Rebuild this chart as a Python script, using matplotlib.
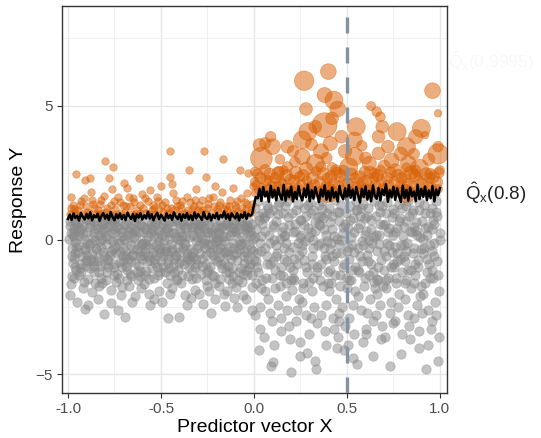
import numpy as np
import matplotlib

matplotlib.use('Agg')
import matplotlib.pyplot as plt
from matplotlib.ticker import MultipleLocator

plt.rcParams['font.family'] = ['Liberation Sans', 'DejaVu Sans']
plt.rcParams['mathtext.fontset'] = 'custom'
plt.rcParams['mathtext.rm'] = 'Liberation Sans'
plt.rcParams['mathtext.it'] = 'Liberation Sans'

# --- data ---
# points below the 0.8 quantile, x < 0
gray_left = [
    (-0.99, 0.52), (-0.98, -0.31), (-0.985, -1.62), (-0.97, 0.12), (-0.975, -0.85), (-0.965, 0.71), (-0.96, -0.48), (-0.955, -1.12),
    (-0.99, -2.05), (-0.97, 0.34), (-0.96, -0.07), (-0.98, -1.35), (-0.955, 0.6), (-0.965, -0.66), (-0.95, -2.3), (-0.985, 0.25),
    (-0.945, -0.22), (-0.94, 0.68), (-0.935, -1.05), (-0.93, 0.41), (-0.925, -0.58), (-0.92, -1.78), (-0.915, 0.05), (-0.91, -0.39),
    (-0.905, 0.77), (-0.94, -1.3), (-0.93, -0.9), (-0.92, 0.22), (-0.91, -2.55), (-0.9, -0.12), (-0.945, 0.5), (-0.905, -0.75),
    (-0.895, 0.3), (-0.89, -1.45), (-0.885, -0.2), (-0.88, 0.62), (-0.875, -0.7), (-0.87, -1.95), (-0.865, 0.1), (-0.86, -0.95),
    (-0.855, 0.45), (-0.85, -0.35), (-0.89, -2.4), (-0.88, 0.75), (-0.87, -0.52), (-0.86, -1.2), (-0.855, 0.0), (-0.895, -0.8),
    (-0.845, 0.55), (-0.84, -0.62), (-0.835, -1.18), (-0.83, 0.18), (-0.825, -0.25), (-0.82, 0.72), (-0.815, -1.6), (-0.81, -0.45),
    (-0.805, 0.38), (-0.8, -0.9), (-0.84, -2.2), (-0.83, -0.05), (-0.82, -1.4), (-0.81, 0.6), (-0.845, -0.78), (-0.805, -2.75),
    (-0.795, -0.15), (-0.79, 0.48), (-0.785, -1.02), (-0.78, 0.8), (-0.775, -0.55), (-0.77, -1.85), (-0.765, 0.25), (-0.76, -0.32),
    (-0.755, -1.3), (-0.75, 0.65), (-0.79, -0.72), (-0.78, 0.05), (-0.77, -2.35), (-0.76, 0.4), (-0.755, -0.9), (-0.795, -1.5),
    (-0.745, 0.33), (-0.74, -0.48), (-0.735, -1.25), (-0.73, 0.7), (-0.725, -0.1), (-0.72, -0.82), (-0.715, -2.05), (-0.71, 0.15),
    (-0.705, -0.6), (-0.7, 0.55), (-0.74, -1.55), (-0.73, -2.6), (-0.72, 0.42), (-0.71, -1.0), (-0.705, -0.28), (-0.745, 0.78),
    (-0.695, -0.4), (-0.69, 0.6), (-0.685, -1.1), (-0.68, 0.2), (-0.675, -0.7), (-0.67, -1.7), (-0.665, 0.45), (-0.66, -0.2),
    (-0.655, -2.3), (-0.65, 0.75), (-0.69, -0.95), (-0.68, -0.05), (-0.67, 0.35), (-0.66, -1.35), (-0.655, -0.55), (-0.695, -2.85),
    (-0.645, 0.1), (-0.64, -0.85), (-0.635, 0.68), (-0.63, -0.35), (-0.625, -1.5), (-0.62, 0.3), (-0.615, -0.6), (-0.61, -1.15),
    (-0.605, 0.55), (-0.6, -0.15), (-0.64, -2.1), (-0.63, 0.8), (-0.62, -0.95), (-0.61, -0.4), (-0.605, -1.8), (-0.645, 0.4),
    (-0.595, -0.55), (-0.59, 0.5), (-0.585, -1.3), (-0.58, 0.0), (-0.575, -0.8), (-0.57, 0.72), (-0.565, -2.0), (-0.56, -0.3),
    (-0.555, 0.25), (-0.55, -1.05), (-0.59, -1.65), (-0.58, 0.4), (-0.57, -0.6), (-0.56, -2.4), (-0.555, 0.6), (-0.595, -0.1),
    (-0.545, 0.38), (-0.54, -0.7), (-0.535, -1.4), (-0.53, 0.65), (-0.525, -0.2), (-0.52, -1.0), (-0.515, 0.1), (-0.51, -1.9),
    (-0.505, -0.45), (-0.5, 0.5), (-0.54, -2.2), (-0.53, -0.85), (-0.52, 0.78), (-0.51, -0.05), (-0.505, -1.2), (-0.545, -0.5),
    (-0.495, 0.2), (-0.49, -0.6), (-0.485, 0.7), (-0.48, -1.2), (-0.475, -0.3), (-0.47, 0.45), (-0.465, -1.6), (-0.46, -0.85),
    (-0.455, 0.05), (-0.45, -2.0), (-0.49, 0.6), (-0.48, -0.4), (-0.46, -2.91), (-0.46, 0.3), (-0.455, -1.05), (-0.495, -2.3),
    (-0.445, -0.15), (-0.44, 0.55), (-0.435, -0.95), (-0.43, 0.25), (-0.425, -0.55), (-0.42, -1.45), (-0.415, 0.75), (-0.41, -0.25),
    (-0.405, -2.85), (-0.4, 0.4), (-0.44, -1.8), (-0.43, -0.7), (-0.42, 0.1), (-0.41, -1.1), (-0.405, 0.62), (-0.445, -0.4),
    (-0.395, 0.3), (-0.39, -0.8), (-0.385, -1.3), (-0.38, 0.6), (-0.375, -0.1), (-0.37, -2.05), (-0.365, 0.15), (-0.36, -0.5),
    (-0.355, 0.72), (-0.35, -1.0), (-0.39, -1.6), (-0.38, -0.3), (-0.37, 0.45), (-0.36, -2.4), (-0.355, -0.7), (-0.395, 0.0),
    (-0.345, -0.35), (-0.34, 0.5), (-0.335, -1.15), (-0.33, 0.2), (-0.325, -0.65), (-0.32, 0.78), (-0.315, -1.85), (-0.31, -0.05),
    (-0.305, -0.9), (-0.3, 0.35), (-0.34, -2.15), (-0.33, -0.45), (-0.32, 0.6), (-0.31, -1.4), (-0.305, 0.1), (-0.345, -0.8),
    (-0.295, 0.45), (-0.29, -0.5), (-0.285, -1.25), (-0.28, 0.05), (-0.275, -2.38), (-0.27, 0.7), (-0.265, -0.3), (-0.26, -0.9),
    (-0.255, 0.3), (-0.25, -1.7), (-0.29, 0.6), (-0.28, -0.7), (-0.27, -0.1), (-0.26, -1.5), (-0.255, 0.75), (-0.295, -2.0),
    (-0.245, -0.2), (-0.24, 0.58), (-0.235, -1.0), (-0.23, -2.7), (-0.225, 0.25), (-0.22, -0.55), (-0.215, -1.35), (-0.21, 0.7),
    (-0.205, -0.05), (-0.2, -0.8), (-0.24, -1.9), (-0.23, 0.4), (-0.22, -0.35), (-0.21, -2.2), (-0.205, 0.1), (-0.245, -1.1),
    (-0.195, 0.35), (-0.19, -0.65), (-0.185, -1.45), (-0.18, 0.72), (-0.175, -0.15), (-0.17, -1.05), (-0.165, 0.15), (-0.16, -2.0),
    (-0.155, -0.45), (-0.15, 0.55), (-0.19, -1.7), (-0.18, -0.3), (-0.17, 0.48), (-0.16, -0.85), (-0.155, -2.45), (-0.195, 0.0),
    (-0.145, -0.4), (-0.14, 0.62), (-0.135, -1.2), (-0.13, 0.2), (-0.125, -0.7), (-0.12, -1.6), (-0.115, 0.45), (-0.11, -0.1),
    (-0.105, -2.15), (-0.1, 0.75), (-0.14, -0.95), (-0.13, -0.25), (-0.12, 0.3), (-0.11, -1.35), (-0.105, -0.55), (-0.145, -1.9),
    (-0.095, 0.28), (-0.09, -0.75), (-0.085, -1.5), (-0.08, 0.65), (-0.075, -0.2), (-0.07, -1.05), (-0.065, 0.1), (-0.06, -2.05),
    (-0.055, -0.45), (-0.05, 0.5), (-0.09, -2.5), (-0.08, -0.35), (-0.07, 0.75), (-0.06, -1.25), (-0.055, -0.6), (-0.095, -1.75),
    (-0.045, 0.4), (-0.04, -0.5), (-0.035, -1.3), (-0.03, 0.7), (-0.025, -0.15), (-0.02, -0.9), (-0.015, 0.2), (-0.01, -1.75),
    (-0.005, -0.4), (-0.045, -2.2), (-0.04, 0.55), (-0.03, -0.7), (-0.02, 0.35), (-0.01, -2.6), (-0.005, 0.05), (-0.035, -1.1),
    # the dense band
    (-0.995, 0.05), (-0.98, -0.6), (-0.97, 0.45), (-0.96, -1.0), (-0.955, -0.25), (-0.99, 0.7), (-0.965, -1.4), (-0.975, 0.2),
    (-0.948, -0.45), (-0.938, 0.15), (-0.928, -1.2), (-0.918, 0.55), (-0.908, -0.3), (-0.902, -0.95), (-0.942, 0.35), (-0.912, -1.55),
    (-0.898, -0.55), (-0.888, 0.5), (-0.878, -0.1), (-0.868, -0.8), (-0.858, 0.7), (-0.852, -1.6), (-0.882, -1.05), (-0.862, 0.25),
    (-0.848, -0.3), (-0.838, 0.4), (-0.828, -0.95), (-0.818, 0.05), (-0.808, -0.6), (-0.802, 0.65), (-0.832, -1.7), (-0.812, 0.3),
    (-0.798, 0.15), (-0.788, -1.2), (-0.778, 0.6), (-0.768, -0.4), (-0.758, -0.05), (-0.752, -1.0), (-0.782, -0.75), (-0.762, 0.75),
    (-0.748, -0.25), (-0.738, 0.5), (-0.728, -1.4), (-0.718, -0.45), (-0.708, 0.3), (-0.702, -0.8), (-0.732, 0.0), (-0.712, -1.75),
    (-0.698, 0.05), (-0.688, -0.6), (-0.678, 0.7), (-0.668, -1.25), (-0.658, 0.25), (-0.652, -0.35), (-0.682, -1.5), (-0.662, -0.8),
    (-0.648, -0.55), (-0.638, 0.35), (-0.628, -1.2), (-0.618, 0.6), (-0.608, -0.2), (-0.602, -0.7), (-0.632, 0.05), (-0.612, -1.35),
    (-0.598, 0.3), (-0.588, -0.45), (-0.578, -1.15), (-0.568, 0.15), (-0.558, -0.75), (-0.552, 0.45), (-0.582, -0.2), (-0.562, -1.45),
    (-0.548, -0.15), (-0.538, 0.2), (-0.528, -0.55), (-0.518, -1.3), (-0.508, 0.35), (-0.502, -0.8), (-0.532, 0.55), (-0.512, -0.35),
    (-0.498, -0.25), (-0.488, -1.0), (-0.478, 0.35), (-0.468, -0.5), (-0.458, 0.65), (-0.452, -1.3), (-0.482, 0.0), (-0.462, -0.7),
    (-0.448, 0.25), (-0.438, -0.35), (-0.428, -1.2), (-0.418, -0.6), (-0.408, 0.05), (-0.402, -0.85), (-0.432, 0.7), (-0.412, -1.5),
    (-0.398, -0.45), (-0.388, 0.15), (-0.378, -0.9), (-0.368, -0.2), (-0.358, 0.5), (-0.352, -1.35), (-0.382, 0.7), (-0.362, -0.65),
    (-0.348, 0.1), (-0.338, -0.6), (-0.328, 0.45), (-0.318, -1.0), (-0.308, -0.3), (-0.302, 0.6), (-0.332, -1.45), (-0.312, -0.7),
    (-0.298, -0.2), (-0.288, 0.25), (-0.278, -0.95), (-0.268, 0.4), (-0.258, -0.55), (-0.252, -1.2), (-0.282, 0.55), (-0.262, 0.0),
    (-0.248, 0.3), (-0.238, -0.45), (-0.228, -1.3), (-0.218, 0.05), (-0.208, -0.7), (-0.202, 0.5), (-0.232, -0.15), (-0.212, -1.6),
    (-0.198, -0.35), (-0.188, 0.25), (-0.178, -0.9), (-0.168, -0.5), (-0.158, 0.6), (-0.152, -1.2), (-0.182, 0.45), (-0.162, -0.05),
    (-0.148, 0.15), (-0.138, -0.55), (-0.128, 0.5), (-0.118, -1.05), (-0.108, -0.3), (-0.102, 0.35), (-0.132, -1.45), (-0.112, 0.6),
    (-0.098, -0.5), (-0.088, 0.4), (-0.078, -1.2), (-0.068, -0.15), (-0.058, 0.55), (-0.052, -0.85), (-0.082, 0.0), (-0.062, -1.55),
    (-0.048, -0.1), (-0.038, 0.25), (-0.028, -1.0), (-0.018, -0.35), (-0.008, 0.6), (-0.002, -0.75), (-0.032, 0.5), (-0.012, -1.3),
]

# points below the 0.8 quantile, x > 0
gray_right = [
    (0.005, 1.2), (0.01, 0.4), (0.015, -0.5), (0.02, -1.2), (0.025, 0.9), (0.03, -0.1), (0.035, -2.5), (0.04, -1.8),
    (0.045, 0.6), (0.005, -2.8), (0.01, -0.8), (0.02, 1.45), (0.03, -3.3), (0.04, 0.15), (0.045, -1.5), (0.025, -4.1),
    (0.055, 0.8), (0.06, -0.3), (0.065, -1.4), (0.07, 1.3), (0.075, -2.2), (0.08, 0.2), (0.085, -0.9), (0.09, -4.7),
    (0.095, -3.0), (0.1, 0.55), (0.06, -1.9), (0.07, -0.6), (0.08, 1.0), (0.085, -2.7), (0.1, -4.55), (0.055, -3.6),
    (0.105, 1.1), (0.11, 0.0), (0.115, -1.1), (0.12, 0.7), (0.125, -0.5), (0.13, -2.4), (0.135, 1.4), (0.14, -1.7),
    (0.145, -3.4), (0.15, 0.3), (0.11, -3.9), (0.12, -0.2), (0.13, 0.95), (0.14, -1.3), (0.145, -2.9), (0.105, -0.8),
    (0.155, 0.5), (0.16, -0.7), (0.165, 1.25), (0.17, -1.6), (0.175, -0.1), (0.18, -2.6), (0.185, 0.85), (0.19, -3.2),
    (0.195, -1.0), (0.2, -4.9), (0.16, 0.15), (0.17, -2.1), (0.18, 1.45), (0.19, -0.45), (0.195, -3.7), (0.155, -1.35),
    (0.205, 1.0), (0.21, -0.25), (0.215, -1.5), (0.22, 0.6), (0.225, -3.0), (0.23, -0.9), (0.235, 1.35), (0.24, -2.2),
    (0.245, 0.1), (0.25, -3.8), (0.21, -1.1), (0.22, 0.35), (0.23, -2.6), (0.24, -0.55), (0.245, -4.3), (0.205, -1.85),
    (0.255, 0.75), (0.26, -0.4), (0.265, -1.8), (0.27, 1.2), (0.275, -0.05), (0.28, -2.8), (0.285, -1.2), (0.29, 0.45),
    (0.295, -3.5), (0.3, 1.4), (0.26, -2.3), (0.27, -0.75), (0.28, 0.9), (0.285, -4.2), (0.295, -1.55), (0.255, 0.2),
    (0.305, 0.3), (0.31, -0.6), (0.315, 1.1), (0.32, -1.4), (0.325, -2.5), (0.33, 0.65), (0.335, -4.8), (0.34, -3.1),
    (0.345, -0.2), (0.35, 1.3), (0.31, -1.9), (0.32, 0.0), (0.33, -4.5), (0.34, -1.0), (0.345, 0.85), (0.305, -2.9),
    (0.355, 0.55), (0.36, -0.9), (0.365, 1.45), (0.37, -1.7), (0.375, -0.3), (0.38, -3.4), (0.385, 0.2), (0.39, -2.4),
    (0.395, 1.0), (0.4, -1.2), (0.36, -2.8), (0.37, 0.8), (0.38, -0.6), (0.39, -3.9), (0.395, -0.05), (0.355, -1.5),
    (0.405, 1.2), (0.41, -0.35), (0.415, -1.6), (0.42, 0.4), (0.425, -2.9), (0.43, -0.8), (0.435, 1.5), (0.44, -2.2),
    (0.445, 0.05), (0.45, -3.6), (0.41, -1.1), (0.42, 0.9), (0.43, -3.3), (0.44, -0.5), (0.445, -4.0), (0.405, -1.9),
    (0.455, 0.7), (0.46, -0.15), (0.465, -1.3), (0.47, 1.3), (0.475, -2.5), (0.48, 0.25), (0.485, -0.9), (0.49, -3.2),
    (0.495, 1.0), (0.5, -1.8), (0.46, -2.7), (0.47, -0.5), (0.48, 0.5), (0.485, -4.1), (0.495, -1.4), (0.455, -3.0),
    (0.505, 0.45), (0.51, -0.7), (0.515, 1.25), (0.52, -1.5), (0.525, -0.2), (0.53, -2.4), (0.535, 0.8), (0.54, -3.5),
    (0.545, -1.0), (0.55, 1.45), (0.51, -2.9), (0.52, 0.1), (0.53, -4.4), (0.54, -0.45), (0.545, -1.9), (0.505, -3.9),
    (0.555, 1.1), (0.56, -0.3), (0.565, -1.2), (0.57, 0.6), (0.575, -2.6), (0.58, -0.8), (0.585, 1.35), (0.59, -1.7),
    (0.595, 0.2), (0.6, -3.3), (0.56, -2.1), (0.57, 0.9), (0.58, -0.05), (0.585, -3.8), (0.595, -1.4), (0.555, -4.6),
    (0.605, 0.35), (0.61, -0.55), (0.615, 1.2), (0.62, -1.3), (0.625, -2.2), (0.63, 0.75), (0.635, -0.1), (0.64, -3.0),
    (0.645, 1.45), (0.65, -1.8), (0.61, -2.7), (0.62, 0.0), (0.63, -0.9), (0.64, -4.3), (0.645, -1.55), (0.605, -3.5),
    (0.655, 0.9), (0.66, -0.4), (0.665, -1.5), (0.67, 1.3), (0.675, 0.2), (0.68, -2.4), (0.685, -0.75), (0.69, -3.2),
    (0.695, 0.55), (0.7, -1.1), (0.66, -2.0), (0.67, -0.15), (0.68, 1.05), (0.685, -3.7), (0.695, -1.7), (0.655, -2.8),
    (0.705, 0.6), (0.71, -0.6), (0.715, 1.4), (0.72, -1.4), (0.725, -0.2), (0.73, -4.7), (0.735, -2.3), (0.74, 0.85),
    (0.745, -3.1), (0.75, -0.9), (0.71, -1.8), (0.72, 0.3), (0.73, -2.7), (0.74, -0.45), (0.745, 1.15), (0.705, -3.6),
    (0.755, 1.0), (0.76, -0.25), (0.765, -1.6), (0.77, 0.45), (0.775, -2.5), (0.78, 1.35), (0.785, -0.7), (0.79, -4.25),
    (0.795, -1.2), (0.8, 0.15), (0.76, -3.0), (0.77, -0.5), (0.78, -2.0), (0.785, 0.8), (0.795, -3.5), (0.755, -1.0),
    (0.805, 0.5), (0.81, -0.8), (0.815, 1.25), (0.82, -1.5), (0.825, -0.1), (0.83, -2.8), (0.835, 0.9), (0.84, -3.7),
    (0.845, -1.1), (0.85, 0.3), (0.81, -2.2), (0.82, -0.4), (0.83, 1.45), (0.835, -3.2), (0.845, -1.8), (0.805, -0.6),
    (0.855, 1.1), (0.86, -0.3), (0.865, -1.3), (0.87, 0.65), (0.875, -2.4), (0.88, -0.75), (0.885, 1.4), (0.89, -3.4),
    (0.895, 0.1), (0.9, -1.7), (0.86, -2.9), (0.87, 0.35), (0.88, -1.0), (0.885, -4.0), (0.895, -2.1), (0.855, -0.5),
    (0.905, 0.7), (0.91, -0.5), (0.915, 1.3), (0.92, -1.6), (0.925, -4.8), (0.93, 0.2), (0.935, -2.6), (0.94, -0.9),
    (0.945, 1.0), (0.95, -3.3), (0.91, -2.0), (0.92, 0.45), (0.93, -1.2), (0.935, -3.9), (0.945, -0.2), (0.905, -2.7),
    (0.955, 1.2), (0.96, -0.4), (0.965, -1.4), (0.97, 0.6), (0.975, -2.3), (0.98, 1.45), (0.985, -0.8), (0.99, -4.5),
    (0.995, -1.9), (1.0, 0.25), (0.96, -3.0), (0.97, -0.1), (0.98, -2.8), (0.985, 0.9), (0.995, -3.6), (0.955, -1.1),
    # the dense band
    (0.008, 0.1), (0.018, -1.0), (0.028, 0.75), (0.038, -0.4), (0.048, 1.0), (0.012, -1.6),
    (0.058, 0.35), (0.068, -0.9), (0.078, 1.2), (0.088, -0.1), (0.098, -1.4), (0.062, 0.9),
    (0.108, 0.5), (0.118, -0.6), (0.128, 1.3), (0.138, 0.05), (0.148, -1.0), (0.112, -1.8),
    (0.158, 1.0), (0.168, 0.2), (0.178, -0.8), (0.188, 0.55), (0.198, -1.5), (0.162, -0.3),
    (0.208, 0.3), (0.218, -0.7), (0.228, 1.1), (0.238, -0.1), (0.248, 0.75), (0.212, -1.4),
    (0.258, -0.2), (0.268, 0.55), (0.278, -1.0), (0.288, 1.3), (0.298, 0.1), (0.262, -1.6),
    (0.308, 1.0), (0.318, -0.3), (0.328, 0.35), (0.338, -1.2), (0.348, 0.6), (0.312, -0.9),
    (0.358, -0.1), (0.368, 1.15), (0.378, 0.4), (0.388, -0.7), (0.398, -1.6), (0.362, 0.9),
    (0.408, 0.65), (0.418, -0.6), (0.428, 0.15), (0.438, -1.3), (0.448, 1.05), (0.412, -0.1),
    (0.458, 1.05), (0.468, 0.0), (0.478, -1.0), (0.488, 0.6), (0.498, -0.4), (0.462, -1.7),
    (0.508, -0.25), (0.518, 0.75), (0.528, -1.1), (0.538, 0.3), (0.548, 1.1), (0.512, -1.5),
    (0.558, 0.45), (0.568, -0.6), (0.578, 1.2), (0.588, -0.2), (0.598, 0.8), (0.562, -1.1),
    (0.608, 0.9), (0.618, -0.3), (0.628, 0.4), (0.638, -1.2), (0.648, 0.1), (0.612, -0.8),
    (0.658, 0.2), (0.668, -1.0), (0.678, 0.6), (0.688, 1.25), (0.698, -0.4), (0.662, -1.45),
    (0.708, 1.0), (0.718, -0.1), (0.728, 0.45), (0.738, -1.0), (0.748, 0.2), (0.712, -1.5),
    (0.758, 0.3), (0.768, -0.8), (0.778, 0.7), (0.788, -0.2), (0.798, 1.2), (0.762, -1.4),
    (0.808, -0.2), (0.818, 0.7), (0.828, -1.1), (0.838, 0.35), (0.848, 1.0), (0.812, -1.6),
    (0.858, 0.5), (0.868, -0.9), (0.878, 0.2), (0.888, 1.1), (0.898, -0.35), (0.862, -1.6),
    (0.908, 0.05), (0.918, 1.0), (0.928, -0.7), (0.938, 0.5), (0.948, -1.4), (0.912, -0.3),
    (0.958, 0.4), (0.968, -0.6), (0.978, 1.05), (0.988, -1.3), (0.998, 0.0), (0.962, 0.75),
]

# points above the 0.8 quantile, x < 0 (all small)
orange_left = [
    (-0.99, 0.95), (-0.975, 1.3), (-0.96, 1.05), (-0.957, 2.44), (-0.985, 1.6), (-0.965, 1.15),
    (-0.945, 1.1), (-0.93, 1.45), (-0.91, 2.23), (-0.92, 0.98), (-0.905, 1.25),
    (-0.88, 2.3), (-0.895, 1.05), (-0.87, 1.5), (-0.86, 1.2), (-0.85, 0.95), (-0.875, 1.8),
    (-0.84, 1.1), (-0.83, 1.35), (-0.8, 2.95), (-0.815, 1.0), (-0.805, 1.65),
    (-0.78, 2.3), (-0.76, 2.7), (-0.79, 1.2), (-0.775, 0.98), (-0.755, 1.45), (-0.765, 1.9),
    (-0.745, 1.15), (-0.73, 1.6), (-0.715, 1.0), (-0.7, 2.1), (-0.705, 1.3),
    (-0.695, 1.05), (-0.68, 1.95), (-0.665, 1.25), (-0.655, 0.95), (-0.65, 1.55),
    (-0.645, 1.4), (-0.63, 1.1), (-0.62, 2.32), (-0.61, 1.0), (-0.6, 1.7),
    (-0.595, 1.2), (-0.58, 1.0), (-0.57, 1.45), (-0.56, 1.85), (-0.55, 1.1),
    (-0.545, 1.3), (-0.53, 0.95), (-0.52, 1.6), (-0.51, 1.15), (-0.5, 2.0),
    (-0.49, 1.05), (-0.48, 1.4), (-0.465, 1.2), (-0.45, 3.32), (-0.45, 2.35), (-0.455, 1.0),
    (-0.44, 2.07), (-0.43, 1.1), (-0.42, 1.5), (-0.41, 0.95), (-0.4, 1.3), (-0.435, 1.75),
    (-0.39, 1.2), (-0.375, 1.0), (-0.36, 1.6), (-0.35, 2.6), (-0.355, 1.1),
    (-0.345, 1.4), (-0.33, 0.98), (-0.32, 1.25), (-0.31, 1.9), (-0.3, 1.1),
    (-0.29, 1.05), (-0.27, 3.31), (-0.28, 1.5), (-0.26, 2.35), (-0.255, 1.2), (-0.265, 0.95),
    (-0.245, 1.35), (-0.23, 1.0), (-0.21, 2.02), (-0.22, 1.6), (-0.2, 1.15),
    (-0.195, 1.05), (-0.165, 3.0), (-0.18, 1.4), (-0.17, 1.8), (-0.155, 0.98), (-0.15, 1.25),
    (-0.145, 1.1), (-0.13, 1.5), (-0.12, 1.0), (-0.11, 1.95), (-0.1, 1.3),
    (-0.095, 1.2), (-0.075, 2.6), (-0.085, 1.05), (-0.07, 1.55), (-0.06, 1.0), (-0.05, 1.4),
    (-0.045, 1.15), (-0.03, 2.5), (-0.035, 1.75), (-0.02, 1.0), (-0.01, 1.35), (-0.005, 2.0),
    (-0.985, 1.2), (-0.955, 0.92), (-0.935, 1.3), (-0.915, 1.55), (-0.885, 1.0), (-0.865, 1.35),
    (-0.835, 0.95), (-0.82, 1.5), (-0.795, 1.05), (-0.77, 1.3), (-0.74, 0.95), (-0.72, 1.4),
    (-0.69, 1.25), (-0.67, 1.6), (-0.64, 0.97), (-0.615, 1.3), (-0.585, 1.55), (-0.565, 0.95),
    (-0.535, 1.2), (-0.515, 1.45), (-0.495, 1.3), (-0.47, 0.95), (-0.445, 1.2), (-0.415, 1.25),
    (-0.385, 1.45), (-0.365, 0.95), (-0.335, 1.15), (-0.315, 1.5), (-0.295, 1.3), (-0.275, 1.1),
    (-0.24, 1.55), (-0.215, 1.25), (-0.19, 1.3), (-0.16, 1.15), (-0.135, 1.25), (-0.115, 0.95),
    (-0.09, 1.45), (-0.065, 1.2), (-0.04, 1.35), (-0.015, 1.1),
]

# points above the 0.8 quantile, x > 0: (x, y, weight)
orange_right = [
    (0.27, 5.92, 2.6), (0.40, 6.26, 2.1), (0.96, 5.55, 2.1), (0.38, 5.39, 2.0), (0.43, 5.2, 2.4), (0.28, 4.87, 1.7),
    (0.45, 4.87, 2.1), (0.63, 4.98, 1.2), (0.66, 4.77, 1.3), (0.68, 4.58, 1.3), (0.99, 4.71, 1.0), (0.42, 4.52, 1.7),
    (0.38, 4.27, 3.3), (0.55, 4.21, 2.4), (0.69, 4.21, 1.7), (0.77, 4.03, 2.4), (0.90, 4.15, 2.4), (0.67, 3.84, 1.7),
    (0.29, 4.03, 2.4), (0.33, 4.21, 1.7), (0.26, 3.72, 2.4), (0.09, 3.84, 1.4), (0.03, 3.53, 1.7), (0.04, 3.04, 2.9),
    (0.10, 3.47, 2.1), (0.18, 3.47, 1.7), (0.26, 3.10, 2.1), (0.33, 2.85, 2.4), (0.41, 3.59, 1.9), (0.47, 3.84, 1.7),
    (0.54, 3.72, 2.1), (0.54, 3.10, 2.4), (0.62, 2.85, 1.9), (0.67, 3.22, 1.7), (0.72, 3.47, 1.7), (0.82, 3.47, 2.4),
    (0.87, 3.84, 1.9), (0.92, 3.9, 1.0), (0.99, 3.47, 1.4), (0.99, 3.2, 2.7), (0.83, 2.85, 2.1), (0.89, 2.67, 2.4),
    (1.0, 2.6, 1.2), (0.76, 2.6, 1.7), (0.65, 2.48, 1.4), (0.51, 2.72, 2.4), (0.44, 2.6, 1.4), (0.36, 2.72, 1.4),
    (0.18, 2.72, 1.4), (0.13, 2.48, 1.7), (0.08, 2.23, 1.2), (0.005, 2.54, 1.2), (0.005, 2.16, 1.2),
    (0.06, 3.6, 1.5), (0.14, 3.0, 1.3), (0.21, 3.3, 1.5), (0.31, 3.55, 1.6), (0.36, 3.3, 2.0), (0.49, 3.3, 1.8),
    (0.58, 3.5, 1.4), (0.6, 3.05, 1.6), (0.74, 2.95, 2.0), (0.79, 3.2, 1.8), (0.86, 3.2, 1.5), (0.94, 3.0, 1.6),
    (0.95, 2.45, 1.5), (0.7, 2.75, 1.6), (0.22, 2.9, 1.4), (0.39, 3.05, 1.5),
    (0.40, 1.75, 2.6), (0.82, 1.72, 2.4), (0.6, 1.8, 2.0), (0.2, 1.75, 1.9),
    (0.005, 1.75, 1.0), (0.015, 2.05, 1.3), (0.025, 1.85, 1.1), (0.035, 2.3, 1.5), (0.045, 1.95, 1.2), (0.02, 2.45, 1.4),
    (0.055, 1.8, 1.1), (0.065, 2.2, 1.4), (0.075, 1.9, 1.2), (0.085, 2.45, 1.6), (0.095, 2.0, 1.3), (0.06, 2.6, 1.5),
    (0.105, 1.85, 1.2), (0.115, 2.3, 1.5), (0.125, 2.0, 1.3), (0.135, 2.55, 1.4), (0.145, 1.78, 1.1), (0.14, 2.15, 1.6),
    (0.155, 2.1, 1.3), (0.165, 1.8, 1.1), (0.175, 2.4, 1.6), (0.185, 1.95, 1.2), (0.195, 2.25, 1.4), (0.16, 2.6, 1.2),
    (0.205, 1.85, 1.2), (0.215, 2.2, 1.5), (0.225, 2.5, 1.7), (0.235, 1.95, 1.3), (0.245, 2.35, 1.4), (0.23, 1.75, 1.0),
    (0.255, 2.05, 1.4), (0.265, 2.4, 1.6), (0.275, 1.8, 1.1), (0.285, 2.2, 1.3), (0.295, 1.95, 1.5), (0.28, 2.65, 1.8),
    (0.305, 1.9, 1.2), (0.315, 2.3, 1.6), (0.325, 2.05, 1.4), (0.335, 2.55, 1.3), (0.345, 1.8, 1.1), (0.32, 1.7, 1.0),
    (0.355, 2.15, 1.5), (0.365, 1.85, 1.2), (0.375, 2.45, 1.7), (0.385, 2.0, 1.3), (0.395, 2.3, 1.4), (0.39, 1.75, 1.1),
    (0.405, 1.95, 1.3), (0.415, 2.35, 1.6), (0.425, 2.1, 1.4), (0.435, 1.8, 1.1), (0.445, 2.5, 1.5), (0.42, 2.7, 1.3),
    (0.455, 2.0, 1.4), (0.465, 2.4, 1.7), (0.475, 1.85, 1.2), (0.485, 2.2, 1.5), (0.495, 1.75, 1.1), (0.48, 2.6, 1.3),
    (0.505, 2.1, 1.5), (0.515, 1.85, 1.2), (0.525, 2.45, 1.6), (0.535, 2.0, 1.3), (0.545, 2.3, 1.4), (0.53, 1.72, 1.0),
    (0.555, 1.95, 1.3), (0.565, 2.35, 1.6), (0.575, 1.8, 1.1), (0.585, 2.15, 1.5), (0.595, 2.55, 1.4), (0.58, 2.0, 1.2),
    (0.605, 2.2, 1.5), (0.615, 1.85, 1.2), (0.625, 2.5, 1.7), (0.635, 1.95, 1.3), (0.645, 2.3, 1.4), (0.64, 1.75, 1.0),
    (0.655, 2.05, 1.4), (0.665, 2.4, 1.6), (0.675, 1.8, 1.1), (0.685, 2.2, 1.5), (0.695, 1.95, 1.2), (0.68, 2.6, 1.3),
    (0.705, 1.9, 1.3), (0.715, 2.3, 1.6), (0.725, 2.05, 1.4), (0.735, 2.5, 1.5), (0.745, 1.8, 1.1), (0.72, 1.72, 1.0),
    (0.755, 2.15, 1.5), (0.765, 1.85, 1.2), (0.775, 2.4, 1.7), (0.785, 2.0, 1.3), (0.795, 2.3, 1.4), (0.78, 1.75, 1.1),
    (0.805, 1.95, 1.3), (0.815, 2.35, 1.6), (0.825, 2.1, 1.4), (0.835, 1.8, 1.1), (0.845, 2.5, 1.8), (0.82, 2.7, 1.2),
    (0.855, 2.0, 1.4), (0.865, 2.4, 1.6), (0.875, 1.85, 1.2), (0.885, 2.2, 1.5), (0.895, 1.75, 1.1), (0.87, 2.6, 1.3),
    (0.905, 2.1, 1.5), (0.915, 1.85, 1.2), (0.925, 2.45, 1.7), (0.935, 2.0, 1.3), (0.945, 2.3, 1.4), (0.93, 1.72, 1.0),
    (0.955, 1.95, 1.3), (0.965, 2.35, 1.6), (0.975, 1.8, 1.1), (0.985, 2.15, 1.5), (0.995, 2.5, 1.4), (0.99, 1.9, 1.2),
]

# estimated 0.8 quantile on an even grid from -1 to 1 (step 0.01)
q80_est = [
    0.78, 0.95, 0.74, 0.99, 0.82, 0.90, 0.72, 1.01, 0.86, 0.76,
    0.97, 0.80, 1.03, 0.73, 0.92, 0.84, 0.98, 0.71, 0.89, 1.00,
    0.79, 0.94, 0.75, 1.04, 0.85, 0.73, 0.96, 0.81, 0.99, 0.77,
    0.93, 0.74, 1.02, 0.88, 0.78, 0.97, 0.71, 0.95, 0.83, 1.00,
    0.76, 0.92, 0.80, 1.05, 0.79, 0.96, 0.73, 0.90, 1.01, 0.77,
    0.94, 0.84, 0.72, 0.99, 0.81, 0.93, 0.75, 1.03, 0.87, 0.78,
    0.97, 0.72, 0.95, 0.82, 1.00, 0.76, 0.92, 0.74, 1.02, 0.80,
    0.96, 0.86, 0.75, 1.04, 0.83, 0.78, 0.98, 0.73, 0.94, 0.81,
    1.01, 0.77, 0.93, 0.84, 1.06, 0.79, 0.96, 0.74, 0.99, 0.88,
    0.80, 1.00, 0.73, 0.95, 0.83, 1.03, 0.78, 0.97, 0.90,
    0.95, 1.30, 1.60,
    1.55, 1.90, 1.45, 1.97, 1.62, 1.80, 1.42, 2.02, 1.58, 1.86,
    1.48, 1.94, 1.66, 1.50, 2.05, 1.46, 1.84, 1.60, 1.98, 1.43,
    1.78, 1.52, 2.00, 1.64, 1.47, 1.91, 1.59, 2.06, 1.44, 1.85,
    1.54, 1.96, 1.68, 1.41, 1.88, 1.62, 2.03, 1.50, 1.82, 1.46,
    1.95, 1.58, 1.79, 1.43, 2.01, 1.65, 1.51, 1.92, 1.45, 2.04,
    1.57, 1.87, 1.48, 1.97, 1.66, 1.40, 1.90, 1.60, 1.99, 1.50,
    1.83, 1.44, 2.03, 1.63, 1.53, 1.94, 1.47, 1.88, 1.67, 2.07,
    1.42, 1.85, 1.58, 1.98, 1.49, 1.92, 1.64, 1.41, 2.02, 1.56,
    1.86, 1.46, 1.95, 1.62, 1.80, 1.44, 2.05, 1.52, 1.90, 1.60,
    1.99, 1.48, 1.84, 1.55, 2.01, 1.43, 1.88, 1.66, 1.93,
]
q_grid = np.linspace(-1.0, 1.0, len(q80_est))

x_cut = 0.5
x_ticks = [-1.0, -0.5, 0.0, 0.5, 1.0]
y_ticks = [-5, 0, 5]

# --- plot ---
fig = plt.figure(figsize=(5.41, 4.38), dpi=100)
ax = fig.add_axes([62 / 541, 1 - 393 / 438, 385 / 541, 387 / 438])

gray = np.array(gray_left + gray_right)
ax.scatter(gray[:, 0], gray[:, 1], s=46, color='#888888', alpha=0.5,
           linewidths=0.5, zorder=2)

ol = np.array(orange_left)
ax.scatter(ol[:, 0], ol[:, 1], s=(0.72 * 7.5) ** 2, color='#D95F02', alpha=0.5,
           linewidths=0.5, zorder=3)
orr = np.array(orange_right)
ax.scatter(orr[:, 0], orr[:, 1], s=(0.72 * 7.5 * orr[:, 2]) ** 2, color='#D95F02',
           alpha=0.5, linewidths=0.5, zorder=3)

ax.plot(q_grid, q80_est, color='black', lw=1.8, zorder=4)
ax.axvline(x_cut, color='#8592A3', lw=2.4, dashes=(4.8, 4.2), zorder=5)

ax.set_xlim(-1.032, 1.038)
ax.set_ylim(-5.69, 8.70)
ax.set_xticks(x_ticks)
ax.set_xticklabels(['-1.0', '-0.5', '0.0', '0.5', '1.0'])
ax.set_yticks(y_ticks)
ax.xaxis.set_minor_locator(MultipleLocator(0.25))
ax.yaxis.set_minor_locator(MultipleLocator(2.5))
ax.grid(which='major', color='#e6e6e6', lw=1.0, zorder=0)
ax.grid(which='minor', color='#f0f0f0', lw=0.7, zorder=0)
ax.set_axisbelow(True)
ax.tick_params(which='major', length=3.5, width=0.8, color='#333333',
               labelcolor='#4D4D4D', labelsize=11, pad=3)
ax.tick_params(which='minor', length=0)
for sp in ax.spines.values():
    sp.set_color('#333333')
    sp.set_linewidth(1.0)

ax.set_xlabel('Predictor vector X', fontsize=14, labelpad=2)
ax.set_ylabel('Response Y', fontsize=14, labelpad=6)

ax.text(1.134, 1.75, r'$\mathrm{\hat{Q}_x}$(0.8)', fontsize=13.5, color='#222222',
        va='center', ha='left', clip_on=False)
ax.text(1.046, 6.65, r'$\mathrm{\hat{Q}_x}$(0.9995)', fontsize=12.5, color='#888888',
        alpha=0.06, va='center', ha='left', clip_on=False)

fig.savefig('out.png', dpi=100)
